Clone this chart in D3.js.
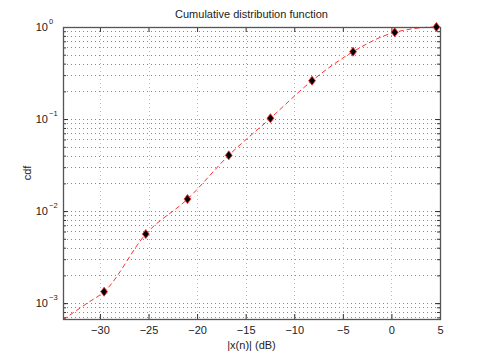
<!DOCTYPE html>
<html><head><meta charset="utf-8">
<script src="https://cdn.jsdelivr.net/npm/d3@7"></script>
<style>body{margin:0;background:#fff}svg{display:block}text{font-family:"Liberation Sans",Arial,sans-serif;fill:#222}</style>
</head><body><svg id="c" width="485" height="360"></svg>
<script>
// Marker points
const markerX = [-29.57, -25.28, -20.99, -16.74, -12.45, -8.17, -3.95, 0.34, 4.63];
const markerY = [1.33e-3, 5.62e-3, 1.35e-2, 4.03e-2, 0.102, 0.261, 0.539, 0.875, 1.0];
// Dashed line points (line starts at the lower-left corner)
const lineX = [-33.8, -31.3, -29.57, -25.28, -20.99, -16.74, -12.45, -8.17, -3.95, 0.34, 4.63, 5.0];
const lineY = [6.6e-4, 1.0e-3, 1.33e-3, 5.62e-3, 1.35e-2, 4.03e-2, 0.102, 0.261, 0.539, 0.875, 1.0, 1.0];
const xTicks = [-30, -25, -20, -15, -10, -5, 0, 5];
const yTicks = [1e-3, 1e-2, 1e-1, 1];
const yExp = ["\u22123", "\u22122", "\u22121", "0"];

const svg = d3.select("#c");
const L = 63, R = 440, T = 27, B = 319;
const x = d3.scaleLinear().domain([-33.8, 5]).range([L, R]);
const y = d3.scaleLog().domain([6.72e-4, 1]).range([B, T]);

// minor log values
const minors = [];
for (let e = -4; e <= 0; e++) for (let m = 1; m <= 9; m++) {
  const v = m * Math.pow(10, e);
  if (v >= y.domain()[0] && v <= 1) minors.push(v);
}

const g = svg.append("g");
// grid
g.selectAll(".hg").data(minors).join("line")
  .attr("x1", L).attr("x2", R).attr("y1", d => Math.round(y(d)) + 0.5).attr("y2", d => Math.round(y(d)) + 0.5)
  .attr("stroke", "#888").attr("stroke-width", 1).attr("stroke-dasharray", "1,3");
g.selectAll(".vg").data(xTicks).join("line")
  .attr("y1", T).attr("y2", B).attr("x1", d => Math.round(x(d)) + 0.5).attr("x2", d => Math.round(x(d)) + 0.5)
  .attr("stroke", "#bbb").attr("stroke-width", 1).attr("stroke-dasharray", "1,3");

// clip
svg.append("clipPath").attr("id", "clip").append("rect").attr("x", L).attr("y", T - 6).attr("width", R - L + 6).attr("height", B - T + 6);

// line
const pts = lineX.map((v, i) => [v, lineY[i]]);
g.append("path").datum(pts)
  .attr("clip-path", "url(#clip)")
  .attr("d", d3.line().x(d => x(d[0])).y(d => y(d[1])).curve(d3.curveMonotoneX))
  .attr("fill", "none").attr("stroke", "#ff3030").attr("stroke-width", 1).attr("stroke-dasharray", "5,3");

// axes box and ticks
const ax = svg.append("g");
const xa = d3.axisBottom(x).tickValues(xTicks).tickSize(-5).tickPadding(7).tickFormat(d => d < 0 ? "\u2212" + Math.abs(d) : d);
const xAxG = ax.append("g").attr("transform", `translate(0,${B})`).call(xa);
const xt = d3.axisTop(x).tickValues(xTicks).tickSize(-5).tickFormat("");
ax.append("g").attr("transform", `translate(0,${T})`).call(xt);
const ya = d3.axisLeft(y).tickValues(minors).tickSize(-3).tickFormat("");
ax.append("g").attr("transform", `translate(${L},0)`).call(ya);
ax.append("g").attr("transform", `translate(${L},0)`).call(d3.axisLeft(y).tickValues(yTicks).tickSize(-5).tickFormat(""));
ax.append("g").attr("transform", `translate(${R},0)`).call(d3.axisRight(y).tickValues(minors).tickSize(-3).tickFormat(""));
ax.append("g").attr("transform", `translate(${R},0)`).call(d3.axisRight(y).tickValues(yTicks).tickSize(-5).tickFormat(""));
ax.selectAll(".domain").remove();
ax.selectAll(".tick line").attr("stroke", "#333");
xAxG.selectAll("text").attr("font-size", 11).attr("fill", "#222").style("font-family", "Liberation Sans, Arial, sans-serif");
ax.append("rect").attr("x", L + 0.5).attr("y", T + 0.5).attr("width", R - L).attr("height", B - T)
  .attr("fill", "none").attr("stroke", "#555").attr("stroke-width", 1.3);

// y tick labels
const yl = svg.append("g");
yTicks.forEach((v, i) => {
  yl.append("text").attr("x", 48).attr("y", y(v) + 4).attr("text-anchor", "end").attr("font-size", 11).text("10");
  yl.append("text").attr("x", 49).attr("y", y(v) - 3).attr("font-size", 7.5).text(yExp[i]);
});

// markers
const sym = d3.symbol().type(d3.symbolDiamond).size(26);
svg.append("g").selectAll("path").data(markerX.map((v, i) => [v, markerY[i]])).join("path")
  .attr("transform", d => `translate(${x(d[0])},${y(d[1])}) scale(1.25,0.95)`)
  .attr("d", sym).attr("fill", "#000").attr("stroke", "#ff3030").attr("stroke-width", 0.8);

// titles
svg.append("text").attr("x", (L + R) / 2).attr("y", 18).attr("text-anchor", "middle").attr("font-size", 11).text("Cumulative distribution function");
svg.append("text").attr("x", (L + R) / 2).attr("y", 349).attr("text-anchor", "middle").attr("font-size", 11).text("|x(n)| (dB)");
svg.append("text").attr("transform", `translate(31,${(T + B) / 2}) rotate(-90)`).attr("text-anchor", "middle").attr("font-size", 11).text("cdf");
</script></body></html>
